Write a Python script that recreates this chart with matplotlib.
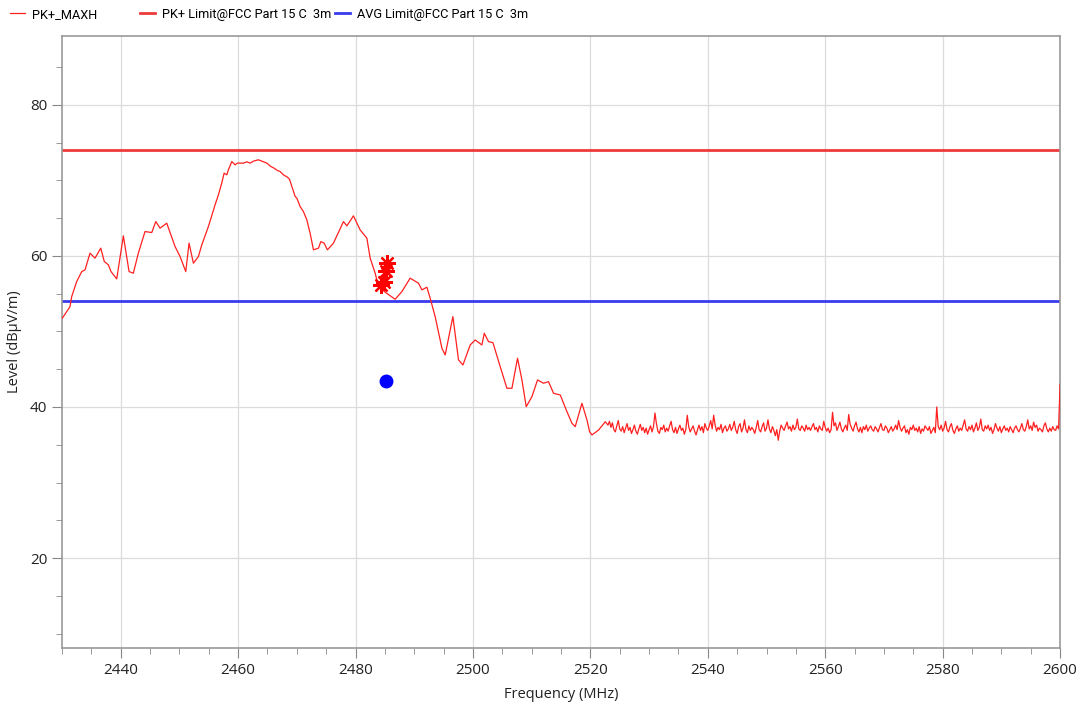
import matplotlib
matplotlib.use("Agg")
import matplotlib.pyplot as plt
import numpy as np
from matplotlib.ticker import MultipleLocator

plt.rcParams["font.family"] = ["Open Sans", "DejaVu Sans"]

# PK+ MAXH trace (MHz, dBuV/m)
trace_freq = [
    2430.05, 2431.36, 2431.65, 2432.5, 2433.36, 2433.92, 2434.77, 2435.62, 2436.6, 2437.2,
    2437.9, 2438.35, 2439.32, 2440.45, 2441.42, 2442.15, 2443.0, 2444.14, 2445.29, 2445.97,
    2446.7, 2447.84, 2449.26, 2450.11, 2451.08, 2451.64, 2452.38, 2453.23, 2453.81, 2454.93,
    2456.07, 2456.64, 2457.21, 2457.61, 2458.07, 2458.34, 2458.92, 2459.48, 2459.87, 2460.9,
    2461.47, 2462.04, 2462.6, 2463.45, 2464.31, 2464.88, 2465.57, 2466.13, 2466.69, 2467.15,
    2467.71, 2468.39, 2468.74, 2469.15, 2469.71, 2470.0, 2470.56, 2471.12, 2471.7, 2472.26,
    2472.83, 2473.68, 2474.09, 2474.65, 2475.21, 2476.23, 2477.94, 2478.52, 2479.64, 2480.78,
    2481.93, 2482.49, 2483.34, 2483.9, 2485.2, 2486.75, 2487.89, 2489.3, 2490.72, 2491.3,
    2492.15, 2492.71, 2493.56, 2494.71, 2495.27, 2496.58, 2497.54, 2498.29, 2499.53, 2500.38,
    2501.52, 2501.92, 2502.65, 2503.4, 2504.64, 2505.78, 2506.64, 2507.59, 2508.34, 2509.07,
    2510.04, 2511.0, 2512.02, 2512.87, 2513.73, 2514.87, 2515.89, 2516.86, 2517.42, 2518.56,
    2519.42, 2519.86, 2520.27, 2521.4, 2522.54,
]
trace_level = [
    51.75, 53.28, 54.61, 56.6, 57.92, 58.15, 60.36, 59.7, 61.02, 59.25,
    58.81, 57.92, 56.95, 62.65, 57.92, 57.71, 60.36, 63.22, 63.09, 64.54,
    63.67, 64.33, 61.23, 59.91, 57.92, 61.68, 59.03, 59.91, 61.46, 63.88,
    66.75, 68.08, 69.63, 70.95, 70.73, 71.39, 72.49, 72.05, 72.28, 72.28,
    72.45, 72.28, 72.54, 72.72, 72.45, 72.28, 71.83, 71.61, 71.3, 71.17,
    70.73, 70.42, 70.16, 69.18, 67.86, 67.64, 66.53, 65.87, 64.77, 63.0,
    60.8, 61.02, 61.89, 61.68, 60.8, 61.68, 64.54, 63.97, 65.3, 63.44,
    62.34, 59.7, 57.71, 55.93, 55.1, 54.26, 55.27, 57.05, 56.38, 55.5,
    55.85, 54.4, 51.96, 47.77, 46.89, 51.96, 46.23, 45.56, 48.21, 48.87,
    48.21, 49.76, 48.65, 48.52, 45.34, 42.48, 42.48, 46.45, 43.58, 40.04,
    41.36, 43.58, 43.14, 43.35, 41.81, 41.59, 39.6, 37.84, 37.4, 40.49,
    38.28, 36.73, 36.3, 36.95, 38.05,
]

# noise floor, 0.25 MHz bins from 2523.0 MHz
floor_start = 2523.0
floor_step = 0.25
floor_level = [
    37.6, 38.1, 37.3, 37.9, 37.0, 36.7, 37.5, 38.2, 37.1, 36.8, 37.4, 36.6, 37.2, 37.8, 36.9, 37.3, 36.5, 37.0, 37.6, 36.8,
    36.4, 37.1, 37.7, 36.9, 37.3, 36.6, 37.2, 36.4, 37.0, 37.5, 36.7, 37.4, 39.2, 37.8, 36.8, 36.5, 37.3, 37.0, 37.6, 36.7,
    37.2, 36.8, 37.5, 38.1, 37.0, 36.6, 37.3, 36.5, 37.1, 37.6, 36.9, 37.2, 36.4, 37.0, 38.9, 37.4, 36.7, 37.1, 37.5, 36.8,
    36.3, 37.0, 37.6, 36.9, 37.4, 36.6, 37.8, 37.2, 36.9, 37.5, 38.2, 37.1, 38.9, 37.6, 36.8, 37.3, 37.0, 37.7, 36.6, 37.2,
    37.5, 36.8, 37.1, 37.7, 36.9, 37.3, 38.1, 37.0, 36.5, 37.4, 37.8, 36.7, 37.2, 38.3, 37.0, 36.6, 37.5, 36.9, 37.3, 37.0,
    36.5, 37.3, 38.2, 37.0, 36.7, 37.4, 37.9, 36.8, 37.2, 38.3, 37.1, 36.6, 37.4, 36.9, 36.2, 37.0, 35.6, 36.8, 37.6, 37.2,
    36.9, 37.5, 38.0, 37.1, 37.4, 36.8, 37.6, 37.0, 37.3, 38.4, 37.1, 36.9, 37.5, 37.2, 36.8, 37.6, 37.0, 37.3, 36.9, 37.4,
    37.8, 37.0, 37.3, 36.7, 37.5, 37.1, 36.9, 38.1, 37.3, 36.8, 37.2, 36.6, 37.0, 39.3, 37.5, 37.9, 36.9, 37.4, 38.0, 37.1,
    36.7, 37.2, 37.6, 36.9, 39.0, 37.7, 37.2, 36.8, 37.5, 38.0, 37.1, 36.7, 37.3, 36.6, 37.4, 37.0, 37.6, 36.8, 37.2, 37.5,
    37.0, 36.8, 37.4, 37.1, 36.7, 37.3, 37.8, 37.0, 36.9, 37.5, 37.2, 36.6, 37.0, 37.4, 36.8, 37.1, 37.6, 37.0, 38.2, 37.3,
    36.8, 37.2, 37.5, 36.6, 37.0, 36.4, 37.3, 37.0, 37.6, 36.9, 37.2, 36.7, 37.4, 36.5, 37.1, 36.8, 37.5, 37.2, 36.9, 37.4,
    36.5, 36.9, 37.3, 36.6, 40.0, 37.4, 37.0, 37.6, 36.8, 37.2, 38.1, 37.0, 36.7, 37.4, 37.8, 36.9, 36.5, 37.1, 37.5, 36.8,
    37.2, 36.9, 37.6, 38.3, 37.1, 36.8, 37.4, 37.0, 37.6, 36.7, 37.2, 37.9, 36.9, 37.3, 38.4, 37.0, 36.8, 37.5, 37.1, 37.6,
    36.9, 37.3, 36.5, 37.0, 37.8, 37.2, 36.8, 37.4, 36.6, 37.1, 37.5, 36.9, 37.2, 36.7, 37.4, 37.0, 36.6, 37.2, 37.5, 37.0,
    36.7, 37.2, 37.8, 37.0, 36.8, 37.4, 38.3, 37.1, 37.5, 36.9, 38.0, 37.3, 37.6, 36.8, 37.2, 37.0, 36.7, 37.5, 37.9, 37.1,
    36.7, 37.2, 36.8, 37.4, 37.0, 36.9, 37.5, 37.1,
]
end_freq = 2600.0
end_level = 43.0

pk_limit = 74.0
avg_limit = 54.0

# peak markers (asterisks) and average result (dot)
pk_mark_freq = [2485.3, 2485.2, 2484.8, 2484.4]
pk_mark_level = [59.0, 58.0, 56.6, 56.1]
avg_mark_freq = [2485.2]
avg_mark_level = [43.5]

floor_freq = floor_start + floor_step * np.arange(len(floor_level))
freq = np.concatenate([trace_freq, floor_freq, [end_freq]])
level = np.concatenate([trace_level, floor_level, [end_level]])

fig = plt.figure(figsize=(10.86, 7.12), dpi=100)
ax = fig.add_axes([0.0571, 0.0899, 0.9190, 0.8595])

l1, = ax.plot(freq, level, color="#ff2020", lw=0.9, zorder=3)
l2 = ax.axhline(pk_limit, color="#ee3a3a", lw=2, zorder=2)
l3 = ax.axhline(avg_limit, color="#3a3aee", lw=2, zorder=2)
ax.plot(pk_mark_freq, pk_mark_level, ls="none", marker=(8, 2, 0), ms=12,
        mec="#ff0000", mew=1.6, zorder=4)
ax.plot(avg_mark_freq, avg_mark_level, ls="none", marker="o", ms=9,
        color="#0000ff", zorder=4)

ax.set_xlim(2430, 2600)
ax.set_ylim(8.1, 89.1)
ax.xaxis.set_major_locator(MultipleLocator(20))
ax.xaxis.set_minor_locator(MultipleLocator(5))
ax.yaxis.set_major_locator(MultipleLocator(20))
ax.yaxis.set_minor_locator(MultipleLocator(5))
ax.grid(True, which="major", color="#dcdcdc", lw=0.9)
ax.set_axisbelow(True)

for s in ax.spines.values():
    s.set_color("#999999")
    s.set_linewidth(1.2)
ax.tick_params(which="major", length=7, color="#888888", labelsize=11, labelcolor="#222222")
ax.tick_params(which="minor", length=4, color="#888888")
ax.tick_params(axis="x", which="both", top=False)
ax.tick_params(axis="y", which="both", right=False)

ax.set_xlabel("Frequency (MHz)", fontsize=10.5, labelpad=7, color="#222222")
ax.set_ylabel("Level (dBµV/m)", fontsize=10.5, labelpad=6, color="#222222")

# legend entries placed one by one along the top
leg_font = {"family": ["Roboto", "DejaVu Sans"], "size": 9.2}
entries = [
    (l1, "PK+_MAXH", 0.0092),
    (l2, "PK+ Limit@FCC Part 15 C  3m", 0.1289),
    (l3, "AVG Limit@FCC Part 15 C  3m", 0.3085),
]
for handle, text, x0 in entries:
    fig.legend([handle], [text], loc="center left", bbox_to_anchor=(x0, 0.980),
               frameon=False, prop=leg_font, handlelength=1.2, handletextpad=0.5,
               borderpad=0, borderaxespad=0)

fig.savefig("out.png", dpi=100)
